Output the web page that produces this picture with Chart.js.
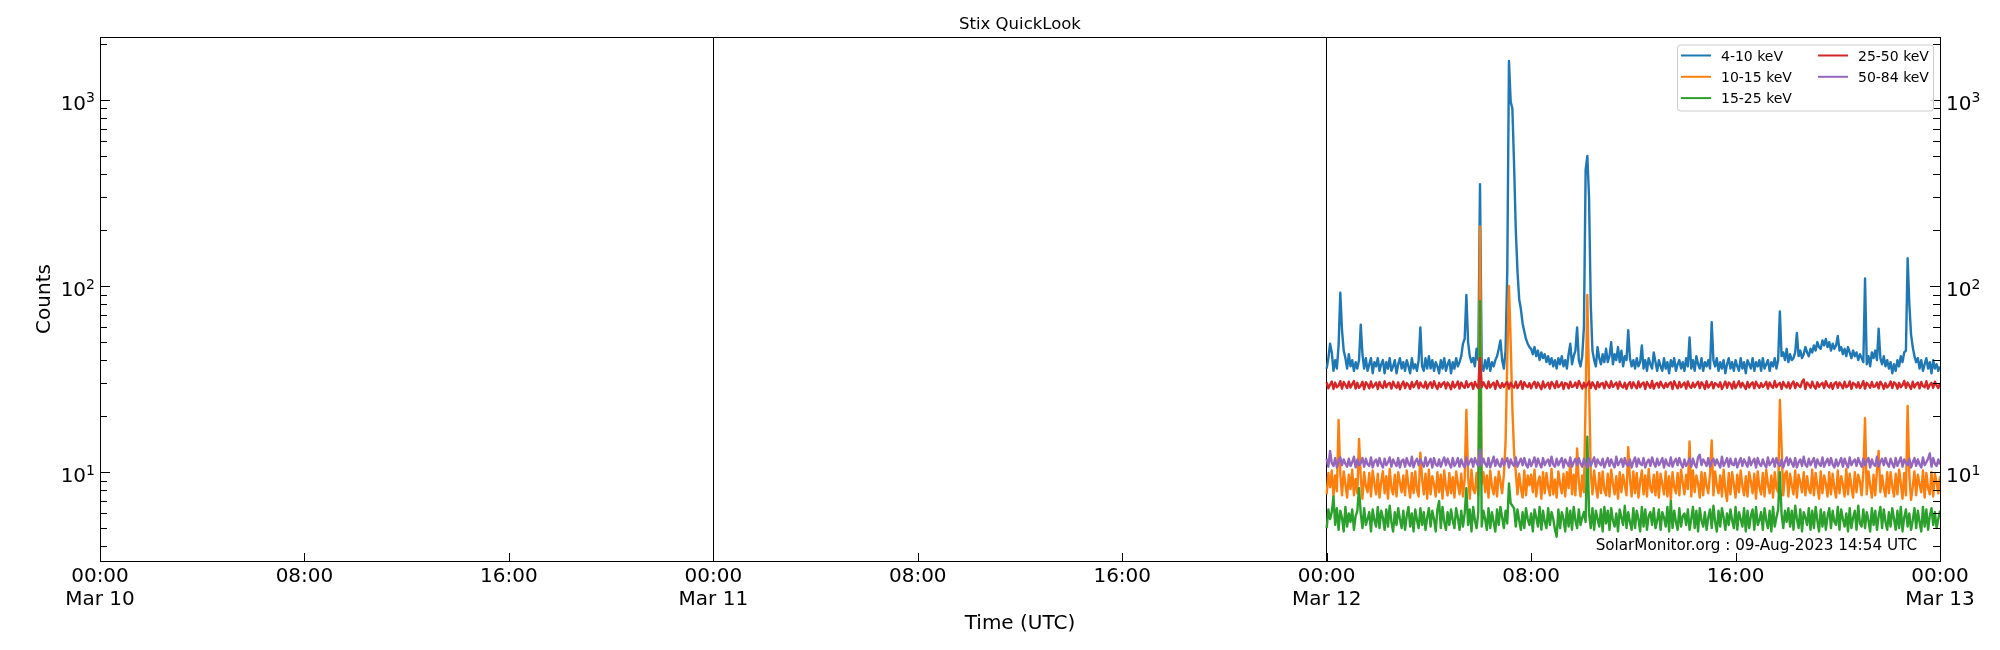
<!DOCTYPE html>
<html>
<head>
<meta charset="utf-8">
<title>Stix QuickLook</title>
<script src="https://cdn.jsdelivr.net/npm/chart.js@4.4.1/dist/chart.umd.min.js"></script>
<style>
  html, body { margin: 0; padding: 0; background: #fff; }
  #wrap { width: 2000px; height: 650px; position: relative; }
</style>
</head>
<body>
<div id="wrap"><canvas id="stix-chart"></canvas></div>
<script>
/* ===== Stix QuickLook light curves ===== */

// x axis is hours since Mar 10 00:00 UTC, one tick every 8 h
const dayLabels = ['Mar 10', 'Mar 11', 'Mar 12', 'Mar 13'];
const hourLabels = ['00:00', '08:00', '16:00'];
const decadeTicks = [10, 100, 1000];
const minorSteps = [2, 3, 4, 5, 6, 7, 8, 9];

const channelNames = ['4-10 keV', '10-15 keV', '15-25 keV', '25-50 keV', '50-84 keV'];
const channelColors = ['#1f77b4', '#ff7f0e', '#2ca02c', '#d62728', '#9467bd'];

// quicklook samples, 4 min apart, Mar 12 00:00 -> Mar 13 00:00 (one row per hour)
const sampleStartHour = 48;
const sampleStepMinutes = 4;

const counts4to10 = [
  36, 41, 49, 44, 35, 40, 36, 48, 92, 58, 45, 41, 36, 43, 37,
  40, 35, 39, 36, 40, 62, 43, 36, 41, 35, 38, 41, 34, 39, 37,
  41, 35, 38, 40, 34, 39, 36, 41, 35, 37, 40, 34, 38, 41, 36,
  39, 35, 40, 37, 34, 41, 36, 38, 35, 40, 60, 37, 35, 41, 36,
  42, 36, 40, 35, 39, 37, 34, 40, 36, 41, 35, 38, 40, 34, 39,
  36, 41, 37, 39, 42, 49, 52, 89.5, 50, 42, 39, 41, 37, 46, 40,
  353, 38, 35, 40, 36, 41, 35, 39, 37, 40, 42, 46, 51, 40, 36,
  45, 120, 1620, 980, 900, 450, 200, 120, 85, 75, 63, 57, 52, 49, 47,
  46, 43, 47, 42, 45, 40, 44, 41, 43, 39, 42, 38, 41, 37, 40,
  36, 41, 38, 42, 37, 40, 36, 43, 49, 38, 42, 45, 60, 40, 37,
  42, 60, 421, 500, 300, 80, 45, 40, 37, 47, 41, 38, 43, 39, 46,
  39, 42, 50, 38, 43, 40, 47, 39, 45, 37, 42, 40, 58, 41, 37,
  40, 36, 41, 37, 39, 48, 36, 40, 35, 41, 38, 36, 44, 39, 35,
  40, 37, 35, 41, 36, 39, 34, 40, 37, 41, 35, 38, 40, 36, 39,
  35, 41, 37, 53, 36, 40, 35, 42, 38, 36, 41, 35, 39, 37, 40,
  36, 64, 40, 37, 41, 35, 39, 36, 40, 34, 38, 41, 36, 39, 35,
  40, 37, 35, 41, 36, 39, 34, 40, 38, 36, 41, 35, 39, 37, 40,
  35, 41, 36, 38, 40, 35, 39, 37, 41, 36, 40, 73, 42, 44, 40,
  46, 39, 43, 40, 41, 44, 56, 42, 45, 41, 43, 47, 44, 42, 46,
  44, 48, 45, 50, 47, 46, 51, 48, 52, 47, 50, 45, 49, 46, 48,
  54, 45, 47, 43, 46, 42, 47, 44, 41, 45, 42, 44, 40, 43, 41,
  39, 110, 38, 42, 37, 44, 41, 45, 40, 59, 41, 38, 42, 37, 40,
  36, 39, 34, 38, 35, 40, 37, 42, 39, 44, 45, 141, 80, 55, 47,
  42, 39, 41, 36, 40, 35, 38, 41, 36, 39, 34, 40, 36, 38, 35,
  37
];

const counts10to15 = [
  7.6, 9.9, 8.3, 10.2, 7.4, 9.6, 7.9, 19.1, 9.8, 7.5, 10.1, 8.6, 7.3, 9.7, 8.1,
  10.3, 7.5, 9.2, 7.7, 15.1, 9.4, 7.2, 10.0, 8.4, 7.8, 9.9, 7.4, 10.2, 8.7, 7.6,
  9.8, 7.3, 8.9, 10.1, 7.7, 9.5, 7.2, 10.4, 8.2, 7.6, 9.7, 7.4, 10.0, 8.8, 7.8,
  9.6, 7.5, 10.2, 8.5, 7.3, 9.9, 7.7, 10.1, 8.0, 7.4, 12.7, 9.3, 7.6, 9.8, 7.2,
  10.3, 7.6, 9.5, 8.6, 7.4, 10.0, 7.8, 9.7, 7.2, 10.2, 8.3, 7.5, 9.9, 7.7, 9.4,
  7.3, 10.1, 8.7, 7.6, 9.8, 7.4, 9.2, 21.6, 9.5, 7.2, 10.3, 8.1, 7.7, 9.9, 7.5,
  209, 8.6, 10.0, 7.8, 9.6, 7.3, 10.2, 8.4, 7.6, 9.4, 7.4, 10.1, 8.9, 7.7, 9.7,
  14.4, 40, 100, 50, 22, 12.7, 10.0, 7.6, 9.8, 8.2, 7.3, 10.2, 7.5, 9.6, 8.5,
  9.7, 7.8, 10.3, 7.4, 8.8, 9.5, 7.2, 10.0, 7.7, 9.9, 8.3, 7.5, 10.4, 7.6, 9.1,
  7.3, 10.1, 8.6, 7.7, 9.8, 7.4, 10.0, 8.2, 11.6, 7.6, 9.7, 7.5, 13.4, 8.9, 7.4,
  9.6, 7.8, 24.5, 89.6, 30, 10.0, 7.6, 10.2, 8.4, 7.3, 9.9, 7.7, 10.1, 8.0, 7.5,
  9.8, 7.4, 10.3, 8.7, 7.6, 9.5, 7.2, 10.0, 7.8, 9.7, 8.5, 7.5, 13.6, 9.2, 7.4,
  10.1, 7.7, 9.9, 7.3, 8.9, 10.2, 7.6, 9.6, 7.4, 10.4, 8.2, 7.8, 9.7, 7.5, 10.0,
  7.3, 9.8, 8.6, 7.6, 10.1, 7.4, 9.5, 7.1, 10.0, 8.3, 7.7, 9.9, 7.5, 10.3, 8.8,
  7.6, 9.7, 8.1, 14.6, 7.4, 10.2, 7.8, 9.6, 8.7, 7.3, 10.0, 7.5, 9.9, 8.4, 7.7,
  9.8, 14.8, 7.5, 10.1, 8.5, 7.7, 9.6, 7.4, 10.3, 8.0, 7.0, 9.9, 7.6, 10.0, 8.6,
  7.3, 9.7, 7.8, 10.2, 8.4, 7.5, 9.5, 7.4, 10.0, 8.9, 7.7, 9.8, 7.2, 10.1, 8.3,
  7.6, 9.9, 7.4, 10.3, 8.6, 7.7, 9.6, 7.3, 10.0, 8.2, 7.8, 24.4, 14.0, 7.5, 9.7,
  10.1, 7.4, 9.8, 8.5, 7.6, 10.2, 7.3, 9.7, 8.8, 7.8, 10.0, 7.5, 9.5, 8.1, 7.7,
  10.3, 7.5, 9.9, 8.4, 7.2, 10.1, 7.7, 9.6, 8.7, 7.4, 10.0, 7.6, 9.8, 8.2, 7.3,
  10.2, 7.7, 9.5, 8.6, 7.4, 10.4, 7.6, 9.8, 8.3, 7.3, 10.0, 7.8, 9.7, 8.9, 7.5,
  9.9, 19.5, 7.6, 10.1, 8.5, 7.3, 9.7, 7.5, 10.2, 13.0, 7.8, 9.6, 8.2, 7.4, 10.0,
  7.7, 10.0, 8.4, 7.4, 9.8, 7.6, 10.3, 8.7, 7.2, 9.9, 7.5, 22.7, 9.6, 7.1, 8.3,
  10.1, 7.5, 9.7, 8.6, 7.8, 10.2, 7.3, 9.9, 8.2, 7.6, 10.0, 7.4, 9.8, 8.8, 7.7,
  9.5
];

const counts15to25 = [
  5.0, 6.3, 5.6, 6.1, 7.4, 5.2, 6.4, 4.9, 6.2, 5.7, 4.8, 6.5, 5.1, 6.0, 5.4,
  6.3, 4.9, 5.8, 6.2, 8.2, 6.0, 5.0, 6.4, 5.2, 5.6, 6.1, 4.8, 6.3, 5.5, 5.1,
  6.5, 5.0, 6.2, 5.7, 4.9, 6.3, 5.1, 6.6, 5.4, 4.8, 6.1, 5.2, 6.4, 5.6, 5.0,
  6.2, 4.9, 5.8, 6.5, 5.1, 6.0, 4.8, 6.3, 5.5, 5.0, 6.4, 5.2, 6.1, 4.9, 5.7,
  6.4, 5.1, 6.2, 5.6, 4.8, 6.3, 7.0, 5.0, 6.5, 5.4, 4.9, 6.1, 5.2, 6.3, 5.5,
  5.0, 6.4, 5.7, 4.9, 6.2, 5.1, 6.0, 8.2, 5.2, 6.3, 4.8, 6.5, 5.5, 5.0, 6.1,
  83, 5.1, 6.2, 5.6, 4.9, 6.4, 5.0, 6.1, 5.4, 4.8, 6.3, 5.2, 6.5, 5.7, 5.0,
  6.2, 5.3, 8.7, 6.8, 6.6, 6.4, 5.1, 6.3, 5.5, 4.9, 6.1, 5.0, 6.4, 5.6, 5.2,
  6.0, 4.8, 6.3, 5.7, 5.1, 6.5, 4.9, 6.2, 5.4, 5.0, 6.4, 5.2, 6.1, 5.6, 4.9,
  4.5, 6.3, 5.0, 6.1, 5.6, 4.8, 6.4, 5.1, 6.2, 4.9, 6.5, 5.5, 5.0, 6.3, 5.2,
  5.7, 6.1, 5.4, 15.5, 6.0, 5.0, 6.4, 4.9, 6.2, 5.6, 5.1, 6.3, 4.8, 6.5, 5.3,
  6.2, 4.9, 6.4, 5.5, 5.1, 6.0, 4.8, 6.3, 5.7, 5.2, 6.6, 5.0, 6.1, 5.4, 4.9,
  6.4, 5.0, 6.2, 5.6, 4.8, 6.5, 5.1, 6.3, 4.9, 5.8, 6.1, 5.2, 6.4, 5.0, 5.5,
  6.3, 4.9, 6.1, 5.7, 5.1, 6.5, 4.8, 7.0, 5.0, 6.2, 5.4, 4.9, 6.4, 5.1, 5.8,
  6.0, 5.2, 6.3, 4.9, 5.6, 6.5, 5.0, 6.2, 4.8, 6.4, 5.5, 5.1, 6.1, 4.9, 5.7,
  6.3, 5.0, 6.6, 5.4, 4.8, 6.2, 5.1, 6.4, 5.7, 4.9, 6.0, 5.2, 6.3, 5.5, 5.0,
  6.5, 4.9, 6.1, 5.6, 5.1, 6.4, 4.8, 6.2, 5.0, 5.8, 6.3, 4.9, 6.5, 5.2, 5.5,
  6.1, 4.9, 6.4, 5.5, 5.0, 6.2, 4.8, 6.5, 5.1, 5.7, 6.3, 10.0, 6.0, 5.0, 6.2,
  5.4, 6.4, 5.1, 6.2, 4.9, 6.6, 5.6, 5.0, 6.3, 4.8, 6.1, 5.7, 5.2, 6.4, 4.9,
  6.2, 5.0, 6.5, 5.5, 4.8, 6.3, 5.1, 6.1, 4.9, 5.8, 6.4, 5.0, 6.2, 5.4, 5.2,
  6.5, 4.9, 6.3, 5.6, 5.1, 6.0, 4.8, 6.4, 5.0, 5.7, 6.2, 4.9, 6.6, 5.3, 5.1,
  6.3, 5.0, 6.1, 5.5, 4.8, 6.4, 5.2, 6.2, 4.9, 5.8, 6.5, 5.0, 6.3, 5.4, 4.9,
  6.1, 5.1, 6.4, 5.6, 4.9, 6.2, 5.0, 6.5, 4.8, 5.7, 6.3, 5.1, 6.0, 4.9, 5.5,
  6.4, 5.0, 6.2, 5.4, 4.8, 6.5, 5.1, 6.3, 4.9, 5.8, 6.4, 5.2, 6.1, 5.0, 5.6,
  6.2
];

const counts25to50 = [
  30.4, 28.2, 29.5, 30.7, 28.0, 30.3, 28.6, 29.2, 30.8, 28.1, 30.5, 29.4, 28.3, 30.6, 28.5,
  29.7, 30.9, 28.1, 30.2, 28.4, 29.1, 30.6, 27.9, 30.4, 29.6, 28.2, 30.7, 28.5, 29.3, 30.3,
  28.0, 30.5, 29.0, 28.3, 30.8, 28.6, 29.8, 30.2, 28.1, 30.6, 29.2, 28.4, 30.4, 27.9, 29.5,
  30.7, 28.3, 30.1, 29.4, 28.0, 30.5, 28.6, 29.7, 30.9, 28.2, 30.3, 29.0, 28.5, 30.6, 28.1,
  29.6, 30.4, 28.4, 30.8, 29.1, 28.0, 30.2, 28.7, 29.9, 30.5, 28.2, 30.3, 29.3, 27.9, 30.6,
  28.5, 29.4, 30.7, 28.1, 30.3, 29.0, 28.4, 30.8, 28.6, 29.7, 30.2, 28.0, 30.5, 29.2, 28.3,
  41.0, 28.6, 30.4, 29.1, 28.2, 30.7, 28.5, 29.6, 30.3, 28.0, 30.9, 29.3, 28.4, 30.1, 28.7,
  29.8, 30.5, 28.1, 30.2, 29.0, 28.5, 30.6, 28.3, 29.5, 30.8, 28.0, 30.4, 29.2, 28.6, 30.1,
  28.2, 29.7, 30.6, 28.4, 30.3, 29.1, 27.9, 30.7, 28.5, 29.4, 30.2, 28.1, 30.5, 29.6, 28.3,
  30.8, 28.6, 29.3, 30.4, 28.0, 30.1, 29.8, 28.2, 30.6, 28.7, 29.0, 30.3, 28.4, 30.9, 29.5,
  28.1, 30.2, 28.5, 29.6, 30.7, 28.3, 30.4, 29.2, 28.0, 30.5, 28.6, 29.9, 30.1, 28.2, 30.6,
  29.3, 28.4, 30.8, 28.7, 29.5, 30.3, 28.1, 30.6, 29.0, 28.5, 30.2, 28.0, 29.7, 30.5, 28.3,
  30.4, 29.1, 28.2, 30.7, 28.6, 29.8, 30.3, 28.0, 30.5, 29.4, 28.4, 30.9, 28.1, 29.6, 30.2,
  28.5, 30.6, 29.2, 28.3, 30.1, 28.7, 29.9, 30.4, 28.0, 30.8, 29.3, 28.2, 30.5, 28.6, 29.5,
  30.3, 28.1, 30.7, 29.0, 28.4, 30.2, 28.6, 29.7, 30.6, 28.3, 30.4, 29.5, 28.0, 30.8, 28.5,
  29.4, 30.5, 28.2, 30.1, 29.6, 28.7, 30.4, 28.0, 29.2, 30.7, 28.4, 30.3, 29.8, 28.1, 30.6,
  28.3, 29.5, 30.8, 28.6, 30.2, 29.1, 28.0, 30.5, 28.5, 29.7, 30.4, 28.2, 30.6, 29.3, 28.4,
  30.1, 28.7, 29.4, 30.6, 28.1, 30.3, 29.0, 28.4, 30.9, 28.6, 29.6, 30.2, 28.0, 30.5, 29.2,
  28.5, 30.4, 28.2, 29.8, 30.7, 28.3, 30.1, 29.3, 28.6, 30.5, 31.5, 28.0, 30.3, 29.5, 28.4,
  30.6, 29.0, 28.1, 30.4, 28.7, 29.6, 30.2, 28.3, 30.8, 29.2, 28.5, 30.1, 28.0, 29.9, 30.5,
  28.4, 30.3, 29.4, 28.2, 30.6, 28.6, 29.1, 30.7, 28.0, 30.2, 29.7, 28.5, 30.4, 28.3, 29.3,
  30.8, 28.1, 30.2, 29.5, 28.4, 30.5, 28.7, 29.0, 30.3, 28.2, 30.6, 29.6, 28.0, 30.1, 28.5,
  29.2, 30.7, 28.3, 30.4, 29.8, 28.1, 30.2, 28.6, 29.4, 30.9, 28.4, 30.3, 29.1, 28.0, 30.6,
  28.5, 29.7, 30.3, 28.2, 30.5, 29.0, 28.6, 30.8, 28.1, 29.5, 30.2, 28.4, 30.6, 29.3, 28.3,
  30.1
];

const counts50to84 = [
  11.8, 10.7, 13.0, 11.2, 10.8, 11.9, 10.6, 11.4, 12.0, 10.9, 11.7, 11.1, 10.7, 11.8, 10.8,
  11.3, 12.1, 10.6, 11.7, 10.9, 11.2, 11.9, 10.7, 11.8, 11.0, 10.8, 12.0, 10.6, 11.4, 11.7,
  10.8, 11.9, 11.1, 10.6, 11.8, 10.9, 11.3, 12.0, 10.7, 11.7, 11.2, 10.8, 11.9, 10.6, 11.5,
  11.7, 10.7, 11.9, 11.1, 10.8, 12.1, 10.6, 11.4, 11.8, 10.9, 11.7, 11.2, 10.7, 12.0, 10.8,
  11.3, 11.8, 10.6, 11.9, 11.0, 10.8, 11.7, 10.7, 11.4, 12.0, 10.9, 11.8, 11.1, 10.6, 11.9,
  10.8, 11.2, 11.9, 10.7, 11.7, 11.0, 10.6, 12.0, 10.9, 11.4, 11.8, 10.7, 11.9, 11.2, 10.8,
  13.2, 10.9, 11.8, 11.1, 10.7, 11.9, 10.6, 11.3, 12.1, 10.8, 11.7, 11.0, 10.7, 11.8, 10.9,
  11.4, 11.9, 10.6, 11.7, 11.1, 10.8, 12.0, 10.7, 11.3, 11.8, 10.9, 11.9, 11.0, 10.6, 11.7,
  10.8, 11.3, 12.0, 10.7, 11.8, 11.1, 10.6, 11.9, 10.9, 11.4, 11.7, 10.8, 12.1, 11.0, 10.7,
  11.8, 10.9, 11.4, 11.9, 10.6, 11.7, 11.2, 10.8, 12.0, 10.7, 11.3, 11.8, 10.9, 11.9, 11.1,
  10.7, 11.8, 11.0, 10.6, 11.9, 10.8, 11.4, 12.0, 10.7, 11.7, 11.2, 10.9, 11.8, 10.6, 11.3,
  11.9, 10.8, 11.7, 11.1, 10.6, 12.1, 10.9, 11.3, 11.8, 10.7, 11.9, 11.0, 10.8, 11.7, 10.6,
  11.4, 12.0, 10.7, 11.8, 11.1, 10.9, 11.9, 10.6, 11.3, 11.7, 10.8, 12.0, 11.2, 10.7, 11.8,
  10.9, 11.3, 11.9, 10.6, 11.7, 11.0, 10.8, 12.0, 10.7, 11.4, 11.8, 10.9, 11.9, 11.1, 10.6,
  11.7, 10.8, 11.2, 11.9, 10.7, 11.8, 11.0, 10.6, 12.0, 12.4, 10.9, 11.7, 11.3, 10.8, 11.9,
  10.7, 11.4, 11.8, 10.9, 11.7, 11.1, 10.6, 12.1, 10.8, 11.3, 11.9, 10.7, 11.8, 11.0, 10.9,
  11.8, 10.6, 11.3, 11.9, 10.8, 11.7, 11.2, 10.7, 12.0, 10.9, 11.4, 11.8, 10.6, 11.9, 11.1,
  10.8, 11.7, 11.0, 10.6, 12.0, 10.9, 11.3, 11.8, 10.7, 11.9, 11.1, 10.8, 11.7, 10.6, 11.4,
  12.0, 10.9, 11.8, 11.2, 10.7, 11.9, 10.6, 11.3, 11.7, 10.8, 12.1, 11.0, 10.7, 11.8, 10.9,
  11.4, 11.9, 10.6, 11.7, 11.1, 10.8, 12.0, 10.7, 11.3, 11.8, 10.9, 11.9, 11.0, 10.6, 11.7,
  10.8, 11.3, 11.9, 10.7, 11.8, 11.1, 10.6, 12.0, 10.9, 11.4, 11.7, 10.8, 11.9, 11.2, 10.7,
  11.8, 10.9, 11.4, 11.9, 10.6, 11.7, 11.0, 10.8, 12.1, 10.7, 11.3, 11.8, 10.9, 11.9, 11.1,
  10.7, 11.8, 11.1, 10.6, 11.9, 10.8, 11.4, 12.0, 10.7, 11.7, 11.2, 10.9, 11.8, 10.6, 11.3,
  11.9, 10.8, 11.7, 11.0, 10.6, 12.0, 10.9, 11.3, 11.8, 12.6, 10.7, 11.9, 11.1, 10.8, 11.7,
  11.0
];

const channelCounts = [counts4to10, counts10to15, counts15to25, counts25to50, counts50to84];

const FONT = "'DejaVu Sans', sans-serif";

function toPoints(values) {
  return values.map((v, i) => ({ x: sampleStartHour + i * sampleStepMinutes / 60, y: v }));
}

function isDayBoundary(h) {
  return h === 24 || h === 48;
}

/**
 * Draws the matplotlib-like decorations: frame, inward ticks,
 * power-of-ten labels, axis titles, legend and the footer stamp.
 */
const quicklookDecor = {
  id: 'quicklookDecor',

  beforeDraw(chart) {
    const { ctx, width, height } = chart;
    ctx.save();
    ctx.fillStyle = '#fff';
    ctx.fillRect(0, 0, width, height);
    ctx.restore();
  },

  afterDraw(chart) {
    const { ctx, chartArea: a, scales: { x, y } } = chart;
    const midX = (a.left + a.right) / 2;
    ctx.save();

    // frame
    ctx.strokeStyle = '#000';
    ctx.lineWidth = 1;
    ctx.strokeRect(a.left + 0.5, a.top + 0.5, a.width, a.height);

    // inward tick marks
    ctx.beginPath();
    x.ticks.forEach(t => {
      const px = Math.round(x.getPixelForValue(t.value)) + 0.5;
      ctx.moveTo(px, a.bottom);
      ctx.lineTo(px, a.bottom - 8);
    });
    decadeTicks.concat([1]).forEach(d => {
      [1].concat(minorSteps).forEach(m => {
        const v = d * m;
        if (v < y.min || v > y.max) return;
        const py = Math.round(y.getPixelForValue(v)) + 0.5;
        const len = m === 1 ? 10 : 7;
        ctx.moveTo(a.left, py); ctx.lineTo(a.left + len, py);
        ctx.moveTo(a.right, py); ctx.lineTo(a.right - len, py);
      });
    });
    ctx.stroke();

    // y labels, both sides: 10 with a raised exponent
    ctx.fillStyle = '#000';
    ctx.textBaseline = 'alphabetic';
    ctx.textAlign = 'left';
    decadeTicks.forEach(v => {
      const py = y.getPixelForValue(v);
      const exp = String(Math.round(Math.log10(v)));
      ctx.font = `14px ${FONT}`;
      const expW = ctx.measureText(exp).width;
      ctx.font = `20px ${FONT}`;
      const baseW = ctx.measureText('10').width;

      ctx.fillText('10', a.left - 5 - expW - baseW, py + 10);
      ctx.fillText('10', a.right + 6, py + 10);
      ctx.font = `14px ${FONT}`;
      ctx.fillText(exp, a.left - 5 - expW, py + 2.5);
      ctx.fillText(exp, a.right + 6 + baseW, py + 2.5);
    });

    // x labels: time, plus date on day boundaries
    ctx.font = `20px ${FONT}`;
    ctx.textAlign = 'center';
    x.ticks.forEach(t => {
      const px = x.getPixelForValue(t.value);
      ctx.fillText(hourLabels[(t.value % 24) / 8], px, a.bottom + 21);
      if (t.value % 24 === 0) ctx.fillText(dayLabels[t.value / 24], px, a.bottom + 43.5);
    });

    // axis titles and chart title
    ctx.fillText('Time (UTC)', midX, a.bottom + 68);
    ctx.save();
    ctx.translate(50, (a.top + a.bottom) / 2);
    ctx.rotate(-Math.PI / 2);
    ctx.fillText('Counts', 0, 0);
    ctx.restore();
    ctx.font = `16.5px ${FONT}`;
    ctx.fillText('Stix QuickLook', midX, 29);

    // footer stamp
    ctx.font = `15.2px ${FONT}`;
    ctx.textAlign = 'right';
    ctx.fillText('SolarMonitor.org : 09-Aug-2023 14:54 UTC', a.right - 23, a.bottom - 11);

    // legend, two columns filled top-down
    const box = { left: a.right - 263, top: a.top + 7.5, w: 256, h: 66 };
    ctx.beginPath();
    ctx.roundRect(box.left + 0.5, box.top + 0.5, box.w, box.h, 3);
    ctx.fillStyle = 'rgba(255,255,255,0.8)';
    ctx.fill();
    ctx.strokeStyle = '#cccccc';
    ctx.lineWidth = 1;
    ctx.stroke();

    ctx.font = `14px ${FONT}`;
    ctx.textAlign = 'left';
    chart.data.datasets.forEach((ds, i) => {
      const col = Math.floor(i / 3);
      const row = i % 3;
      const lx = box.left + 4 + col * 137;
      const ly = box.top + 11 + row * 21.3;
      ctx.strokeStyle = ds.borderColor;
      ctx.lineWidth = 2;
      ctx.beginPath();
      ctx.moveTo(lx, ly);
      ctx.lineTo(lx + 30, ly);
      ctx.stroke();
      ctx.fillStyle = '#000';
      ctx.fillText(ds.label, lx + 40, ly + 5);
    });

    ctx.restore();
  }
};

new Chart(document.getElementById('stix-chart'), {
  type: 'line',
  data: {
    datasets: channelNames.map((name, i) => ({
      label: name,
      data: toPoints(channelCounts[i]),
      borderColor: channelColors[i],
      backgroundColor: channelColors[i],
      borderWidth: 2.4,
      borderJoinStyle: 'round',
      pointRadius: 0,
      tension: 0,
      fill: false,
      // matplotlib draws later channels on top
      order: channelNames.length - 1 - i,
    }))
  },
  options: {
    responsive: true,
    maintainAspectRatio: false,
    animation: false,
    events: [],
    layout: { padding: { left: 100, right: 60, top: 37, bottom: 89 } },
    plugins: {
      legend: { display: false },
      title: { display: false },
      tooltip: { enabled: false }
    },
    scales: {
      x: {
        type: 'linear',
        min: 0,
        max: 72,
        ticks: { display: false, stepSize: 8 },
        border: { display: false },
        grid: {
          drawTicks: false,
          lineWidth: 1,
          color: c => (c.tick && isDayBoundary(c.tick.value)) ? '#000' : 'rgba(0,0,0,0)'
        }
      },
      y: {
        type: 'logarithmic',
        min: 3.33,
        max: 2180,
        ticks: { display: false },
        border: { display: false },
        grid: { display: false, drawTicks: false }
      }
    }
  },
  plugins: [quicklookDecor]
});
</script>
</body>
</html>
